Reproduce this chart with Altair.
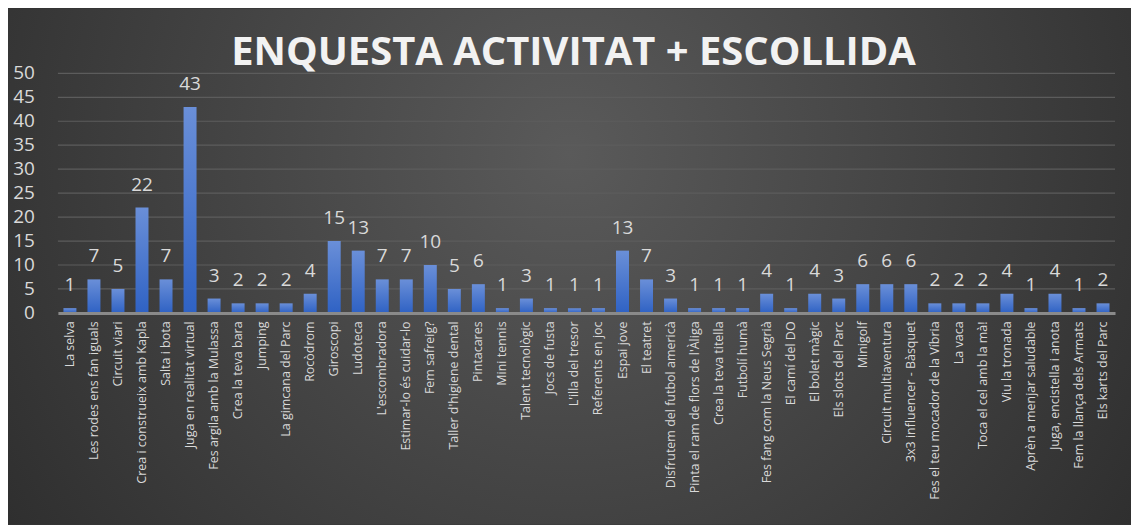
import altair as alt
import pandas as pd

categories = [
    "La selva", "Les rodes ens fan iguals", "Circuit viari", "Crea i construeix amb Kapla",
    "Salta i bota", "Juga en realitat virtual", "Fes argila amb la Mulassa", "Crea la teva bara",
    "Jumping", "La gimcana del Parc", "Rocòdrom", "Giroscopi", "Ludoteca", "L'escombradora",
    "Estimar-lo és cuidar-lo", "Fem safreig?", "Taller d'higiene dental", "Pintacares",
    "Mini tennis", "Talent tecnològic", "Jocs de fusta", "L'illa del tresor", "Referents en joc",
    "Espai jove", "El teatret", "Disfrutem del futbol americà", "Pinta el ram de flors de l'Àliga",
    "Crea la teva titella", "Futbolí humà", "Fes fang com la Neus Segrià", "El camí del  DO",
    "El bolet màgic", "Els slots del Parc", "Minigolf", "Circuit multiaventura",
    "3x3 influencer - Bàsquet", "Fes el teu mocador de la Víbria", "La vaca",
    "Toca el cel amb la mà!", "Viu la tronada", "Aprèn a menjar saludable",
    "Juga, encistella i anota", "Fem la llança dels Armats", "Els karts del Parc",
]
values = [1, 7, 5, 22, 7, 43, 3, 2, 2, 2, 4, 15, 13, 7, 7, 10, 5, 6, 1, 3, 1, 1, 1, 13, 7,
          3, 1, 1, 1, 4, 1, 4, 3, 6, 6, 6, 2, 2, 2, 4, 1, 4, 1, 2]
y_ticks = [0, 5, 10, 15, 20, 25, 30, 35, 40, 45, 50]
title_text = "ENQUESTA ACTIVITAT + ESCOLLIDA"

df = pd.DataFrame({"activitat": categories, "n": values})
grid_df = pd.DataFrame({"g": y_ticks[1:]})
ytick_df = pd.DataFrame({"v": y_ticks})

FONT = "Open Sans"
W, H = 1059, 240

y_scale = alt.Scale(domain=[0, 50], nice=False)

bg = alt.Chart(alt.Data(values=[{"k": 1}])).mark_rect(
    color=alt.RadialGradient(
        gradient="radial",
        stops=[alt.GradientStop(offset=0, color="#5a5a5a"),
               alt.GradientStop(offset=1, color="#242424")],
        x1=0.5, y1=0.4, r1=0, x2=0.5, y2=0.4, r2=0.75,
    )
).encode(
    x=alt.value(-50), x2=alt.value(W + 16), y=alt.value(-65), y2=alt.value(H + 212)
)

title = alt.Chart(alt.Data(values=[{"t": title_text}])).mark_text(
    fontSize=40, fontWeight="bold", color="#f2f2f2", font=FONT,
    baseline="alphabetic", align="center",
).encode(text="t:N", x=alt.value(W / 2 - 13), y=alt.value(-8))

grid = alt.Chart(grid_df).mark_rule(color="#5c5c5c", strokeWidth=1.2).encode(
    y=alt.Y("g:Q", scale=y_scale, title=None, axis=None),
    x=alt.value(0), x2=alt.value(W),
)

ylabels = alt.Chart(ytick_df).mark_text(
    fontSize=19, color="#d9d9d9", font=FONT, align="right", baseline="middle"
).encode(
    y=alt.Y("v:Q", scale=y_scale, title=None, axis=None),
    x=alt.value(-23),
    text="v:Q",
)

x_enc = alt.X(
    "activitat:N", sort=categories, title=None,
    scale=alt.Scale(paddingInner=0, paddingOuter=0),
    axis=alt.Axis(labelAngle=270, labelAlign="right", labelBaseline="middle",
                  labelFontSize=12.5, labelColor="#d9d9d9", labelFont=FONT,
                  labelPadding=8, labelLimit=300, ticks=False, labelOverlap=False,
                  domainColor="#8a8a8a", domainWidth=3, grid=False, zindex=1),
)
y_enc = alt.Y("n:Q", title=None, scale=y_scale, axis=None)

bars = alt.Chart(df).mark_bar(
    size=13,
    color=alt.LinearGradient(
        gradient="linear",
        stops=[alt.GradientStop(offset=0, color="#6a8fd8"),
               alt.GradientStop(offset=1, color="#2f62c4")],
        x1=0, x2=0, y1=0, y2=1,
    ),
).encode(x=x_enc, y=y_enc)

labels = alt.Chart(df).mark_text(
    fontSize=19, color="#d9d9d9", font=FONT, baseline="alphabetic", dy=-17
).encode(x=alt.X("activitat:N", sort=categories), y=alt.Y("n:Q", axis=None), text="n:Q")

chart = alt.layer(bg, grid, ylabels, bars, labels, title).properties(
    width=W, height=H,
    padding={"left": 50, "top": 65, "right": 16, "bottom": 212},
    autosize=alt.AutoSizeParams(type="none"),
    background="#333333",
).configure_view(stroke=None)

chart.save("out.html", embed_options={"renderer": "svg", "actions": False})
